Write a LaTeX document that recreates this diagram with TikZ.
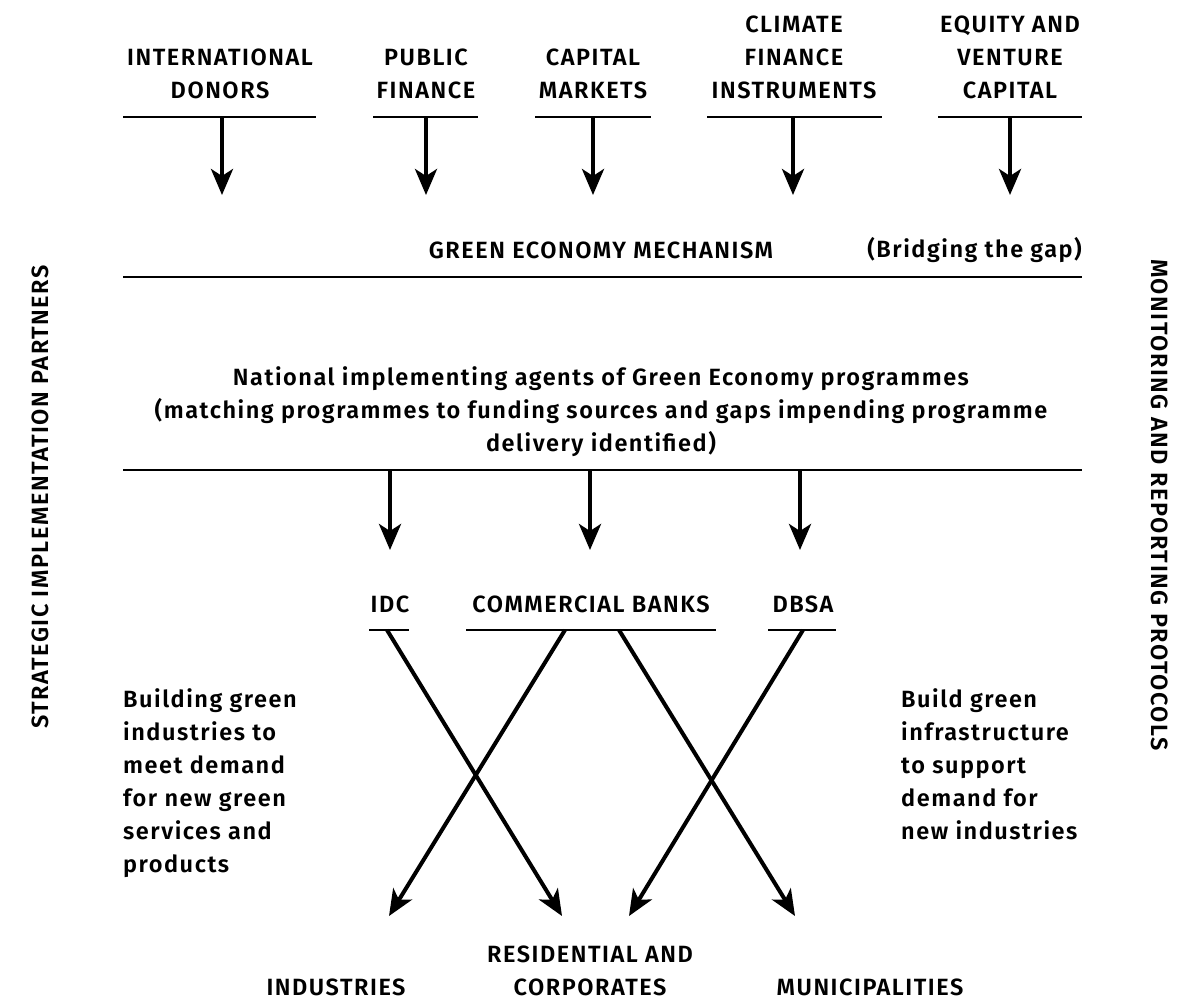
\documentclass[tikz,border=0pt]{standalone}
\usepackage{fontspec}
\setmainfont{Fira Sans}[BoldFont={Fira Sans SemiBold},BoldFeatures={LetterSpace=6.5}]
\usetikzlibrary{arrows.meta}

\begin{document}
\begin{tikzpicture}
[
x=1pt,y=-1pt,
txt/.style={font=\fontsize{23.5}{33}\selectfont\bfseries,align=center,inner sep=0pt},
note/.style={txt,align=left,anchor=north west},
rule/.style={line width=1.3pt},
flow/.style={line width=4pt,-{Stealth[length=26pt,width=22pt,inset=7pt]}},
]
\useasboundingbox (0,0) rectangle (1198,1005);

% sources
\node[txt] (donors) at (220,74) {INTERNATIONAL\\DONORS};
\node[txt] (public) at (426,74) {PUBLIC\\FINANCE};
\node[txt] (capital) at (593,74) {CAPITAL\\MARKETS};
\node[txt] (climate) at (794,57) {CLIMATE\\FINANCE\\INSTRUMENTS};
\node[txt] (equity) at (1010,57) {EQUITY AND\\VENTURE\\CAPITAL};

\draw[rule] (123,117) -- (316,117);
\draw[rule] (373,117) -- (478,117);
\draw[rule] (535,117) -- (651,117);
\draw[rule] (707,117) -- (882,117);
\draw[rule] (938,117) -- (1082,117);

\coordinate (d1) at (222,195);
\coordinate (d2) at (426,195);
\coordinate (d3) at (593,195);
\coordinate (d4) at (793,195);
\coordinate (d5) at (1010,195);
\draw[flow] (222,117) -- (d1);
\draw[flow] (426,117) -- (d2);
\draw[flow] (593,117) -- (d3);
\draw[flow] (793,117) -- (d4);
\draw[flow] (1010,117) -- (d5);

% mechanism
\node[txt] (gem) at (601,250) {GREEN ECONOMY MECHANISM};
\node[txt,anchor=east] (gap) at (1082,250) {(Bridging the gap)};
\draw[rule] (123,277) -- (1082,277);

\node[txt] (agents) at (601,412) {National implementing agents of Green Economy programmes\\(matching programmes to funding sources and gaps impending programme\\delivery identified)};
\draw[rule] (123,470) -- (1082,470);

% intermediaries
\node[txt] (idc) at (390,604) {IDC};
\node[txt] (banks) at (591,604) {COMMERCIAL BANKS};
\node[txt] (dbsa) at (803,604) {DBSA};
\draw[rule] (369,630) -- (409,630);
\draw[rule] (466,630) -- (716,630);
\draw[rule] (768,630) -- (836,630);

\coordinate (m1) at (390,550);
\coordinate (m2) at (590,550);
\coordinate (m3) at (800,550);
\draw[flow] (390,470) -- (m1);
\draw[flow] (590,470) -- (m2);
\draw[flow] (800,470) -- (m3);

% crossing flows
\coordinate (e1) at (389,916);
\coordinate (e2) at (562,916);
\coordinate (e3) at (629,916);
\coordinate (e4) at (795,916);
\draw[flow] (387,630) -- (e2);
\draw[flow] (565,630) -- (e1);
\draw[flow] (619,630) -- (e4);
\draw[flow] (803,630) -- (e3);

% recipients
\node[txt] (ind) at (336,987) {INDUSTRIES};
\node[txt] (res) at (590,971) {RESIDENTIAL AND\\CORPORATES};
\node[txt] (mun) at (870,987) {MUNICIPALITIES};

\node[note] (left) at (123,688) {Building green\\industries to\\meet demand\\for new green\\services and\\products};
\node[note] (right) at (901,688) {Build green\\infrastructure\\to support\\demand for\\new industries};

% side labels
\node[txt,rotate=90] (partners) at (40,497) {STRATEGIC IMPLEMENTATION PARTNERS};
\node[txt,rotate=-90] (protocols) at (1160,505) {MONITORING AND REPORTING PROTOCOLS};

\end{tikzpicture}
\end{document}
